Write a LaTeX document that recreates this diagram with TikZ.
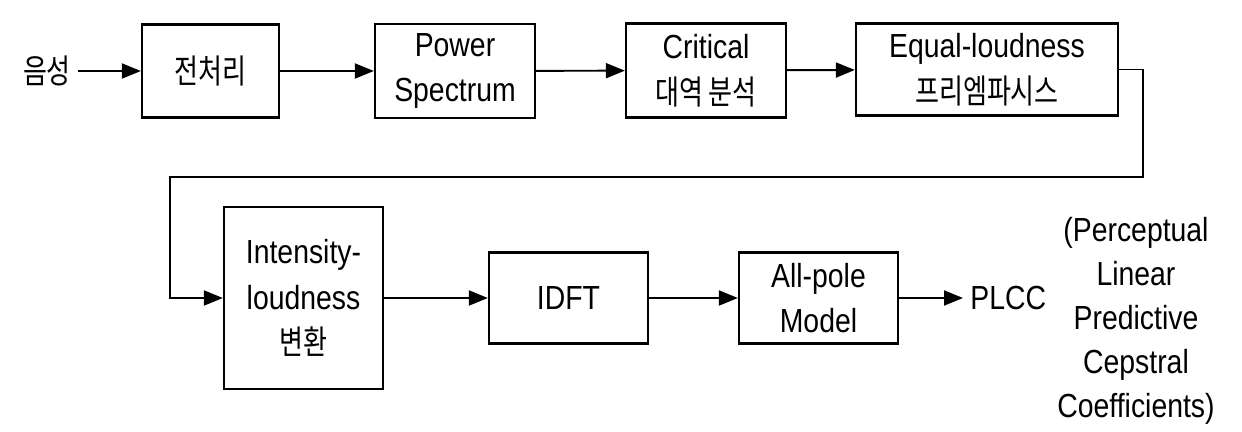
\documentclass[tikz,border=0pt]{standalone}
\usepackage{fontspec}
\setmainfont{Liberation Sans}[FakeStretch=0.85]
\newfontfamily\kr{Noto Sans CJK KR}[Scale=1.0,FakeStretch=0.78]
\usetikzlibrary{arrows.meta, positioning}

\begin{document}
\begin{tikzpicture}[
    box/.style={rectangle, draw=black, line width=1.3pt, fill=white,
                inner sep=2pt, align=center,
                font=\fontsize{19}{26}\selectfont},
    tag/.style={inner sep=4pt, align=center, font=\fontsize{19}{25}\selectfont},
    arrow/.style={-{Triangle[length=0.38cm, width=0.3cm]}, line width=1.1pt},
]
\useasboundingbox (0,0) rectangle (24.84,8.62);
% first row
\node[tag] (in) at (0.94,7.2) {\kr 음성};
\node[box, minimum width=2.74cm, minimum height=1.86cm] (pre) at (4.21,7.2) {\kr 전처리};
\node[box, minimum width=3.2cm, minimum height=1.88cm] (power) at (9.1,7.2) {Power\\Spectrum};
\node[box, minimum width=3.2cm, minimum height=1.88cm] (crit) at (14.12,7.21) {Critical\\{\kr 대역 분석}};
\node[box, minimum width=5.24cm, minimum height=1.84cm] (equal) at (19.74,7.23) {Equal-loudness\\{\kr 프리엠파시스}};
% second row
\node[box, minimum width=3.18cm, minimum height=3.64cm] (inten) at (6.07,2.66) {Intensity-\\loudness\\{\kr 변환}};
\node[box, minimum width=3.18cm, minimum height=1.82cm] (idft) at (11.37,2.66) {IDFT};
\node[box, minimum width=3.18cm, minimum height=1.82cm] (allp) at (16.37,2.66) {All-pole\\Model};
\node[tag, anchor=west] (plcc) at (19.26,2.66) {PLCC};
\node[tag] (note) at (22.72,2.2) {(Perceptual\\Linear\\Predictive\\Cepstral\\Coefficients)};
% wrap-around from the first row to the second
\coordinate (turn) at (22.86,5.08);
\coordinate (back) at (3.4,5.08);
\draw[arrow] (in) -- (pre);
\draw[arrow] (pre) -- (power);
\draw[arrow] (power) -- (crit);
\draw[arrow] (crit) -- (equal);
\draw[arrow] (equal.east) -| (turn) -- (back) |- (inten.west);
\draw[arrow] (inten) -- (idft);
\draw[arrow] (idft) -- (allp);
\draw[arrow] (allp) -- (plcc);
\end{tikzpicture}
\end{document}
